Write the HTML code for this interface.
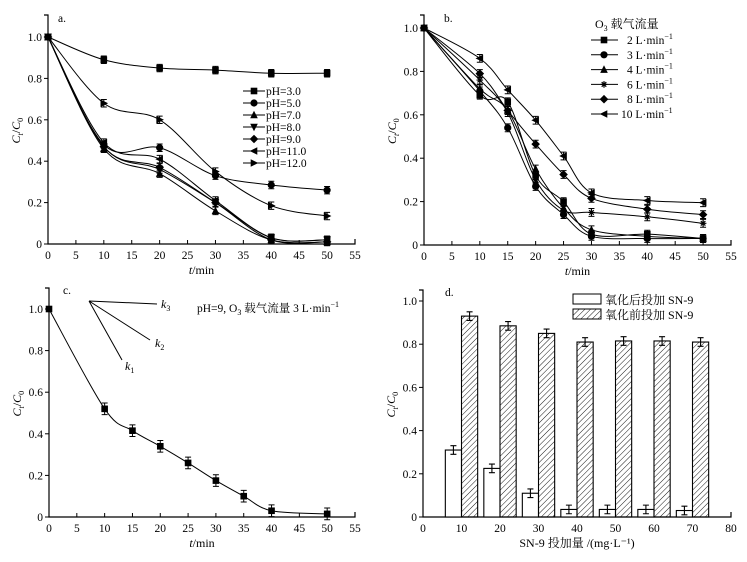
<!DOCTYPE html>
<html><head><meta charset="utf-8"><style>
body{margin:0;background:#fff;}
svg{display:block;font-family:"Liberation Serif","Noto Serif CJK SC",serif;}
</style></head><body>
<svg id="fig" width="747" height="562" viewBox="0 0 747 562">
<defs><pattern id="hatch" patternUnits="userSpaceOnUse" width="4" height="4" patternTransform="rotate(45)"><line x1="0" y1="0" x2="0" y2="4" stroke="#000" stroke-width="0.9"/></pattern></defs>
</svg>
<script>
// Panel a data
const aTimes=[0,10,20,30,40,50];
const aLabels=["pH=3.0","pH=5.0","pH=7.0","pH=8.0","pH=9.0","pH=11.0","pH=12.0"];
const aPH3=[1,0.89,0.85,0.84,0.825,0.825];
const aPH5=[1,0.48,0.465,0.33,0.285,0.26];
const aPH7=[1,0.46,0.34,0.16,0.02,0.01];
const aPH8=[1,0.47,0.36,0.2,0.03,0.02];
const aPH9=[1,0.47,0.37,0.2,0.02,0.01];
const aPH11=[1,0.49,0.41,0.21,0.03,0.02];
const aPH12=[1,0.68,0.6,0.35,0.185,0.135];
// Panel b data
const bTimes=[0,10,15,20,25,30,40,50];
const bLabels=["2 L·min","3 L·min","4 L·min","6 L·min","8 L·min","10 L·min"];
const bF2=[1,0.69,0.66,0.32,0.2,0.05,0.05,0.03];
const bF3=[1,0.71,0.54,0.27,0.14,0.04,0.03,0.03];
const bF4=[1,0.72,0.62,0.35,0.17,0.07,0.04,0.03];
const bF6=[1,0.76,0.61,0.3,0.16,0.15,0.13,0.10];
const bF8=[1,0.79,0.62,0.465,0.325,0.215,0.165,0.14];
const bF10=[1,0.86,0.715,0.575,0.41,0.24,0.205,0.195];
// Panel c data
const cTimes=[0,10,15,20,25,30,35,40,50];
const cVals=[1,0.52,0.415,0.34,0.26,0.175,0.10,0.03,0.015];
// Panel d data
const dDoses=[10,20,30,40,50,60,70];
const dAfter=[0.31,0.225,0.11,0.035,0.035,0.035,0.03];
const dBefore=[0.93,0.885,0.85,0.81,0.815,0.815,0.81];
const xTicks55=[0,5,10,15,20,25,30,35,40,45,50,55];
const xTicks80=[0,10,20,30,40,50,60,70,80];
const yTicks=[0,0.2,0.4,0.6,0.8,1.0];

const svg=document.getElementById('fig');
const NS='http://www.w3.org/2000/svg';
function mk(tag,attrs,parent,txt){const e=document.createElementNS(NS,tag);for(const k in attrs)e.setAttribute(k,attrs[k]);if(txt!==undefined)e.textContent=txt;(parent||svg).appendChild(e);return e;}

function axes(p,name,xt,xmax,xlabel){
  const g=mk('g',{},svg);
  
  
  const X=v=>p.x0+(v/xmax)*(p.x1-p.x0);
  const Y=v=>p.y0-v*(p.y0-p.y1);
  mk('path',{d:`M${p.x0-4} ${p.top}H${p.x0}V${p.y0}H${p.x1}V${p.y0-5}`,fill:'none',stroke:'#000','stroke-width':1.2},g);
  xt.forEach(t=>{mk('line',{x1:X(t),x2:X(t),y1:p.y0,y2:p.y0-4,stroke:'#000'},g);
    const tl=mk('text',{x:X(t),y:p.y0+15,'text-anchor':'middle','font-size':11.5},g,String(t));
    });
  yTicks.forEach(t=>{mk('line',{x1:p.x0,x2:p.x0-4,y1:Y(t),y2:Y(t),stroke:'#000'},g);
    const tl=mk('text',{x:p.x0-6,y:Y(t)+4,'text-anchor':'end','font-size':11.5},g,t===0?'0':t.toFixed(1));
    });
  const yl=mk('text',{transform:`translate(${p.x0-28},${(p.y0+p.top)/2+14}) rotate(-90)`,'font-size':12},g);
  
  mk('tspan',{'font-style':'italic'},yl,'C');mk('tspan',{'font-size':8,dy:3,'font-style':'italic'},yl,'t');
  mk('tspan',{dy:-3},yl,'/');mk('tspan',{'font-style':'italic'},yl,'C');mk('tspan',{'font-size':8,dy:3},yl,'0');
  const xl=mk('text',{x:(p.x0+p.x1)/2,y:p.y0+30,'text-anchor':'middle','font-size':12},g);
  
  if(xlabel){xl.textContent=xlabel;}else{mk('tspan',{'font-style':'italic'},xl,'t');mk('tspan',{},xl,'/min');}
  return {X,Y,g};
}
function smooth(pts){
  let d=`M${pts[0][0]} ${pts[0][1]}`;
  for(let i=0;i<pts.length-1;i++){
    const p0=pts[i-1]||pts[i],p1=pts[i],p2=pts[i+1],p3=pts[i+2]||p2;
    const c1=[p1[0]+(p2[0]-p0[0])/6,p1[1]+(p2[1]-p0[1])/6];
    const c2=[p2[0]-(p3[0]-p1[0])/6,p2[1]-(p3[1]-p1[1])/6];
    d+=`C${c1[0]} ${c1[1]} ${c2[0]} ${c2[1]} ${p2[0]} ${p2[1]}`;
  }
  return d;
}
function marker(type,x,y,g){
  const s=3.3;let e;
  if(type==='sq')e=mk('rect',{x:x-s,y:y-s,width:2*s,height:2*s},g);
  else if(type==='ci')e=mk('circle',{cx:x,cy:y,r:s+0.3},g);
  else if(type==='up')e=mk('polygon',{points:`${x},${y-s-1} ${x-s-0.5},${y+s} ${x+s+0.5},${y+s}`},g);
  else if(type==='dn')e=mk('polygon',{points:`${x},${y+s+1} ${x-s-0.5},${y-s} ${x+s+0.5},${y-s}`},g);
  else if(type==='di')e=mk('polygon',{points:`${x},${y-s-1} ${x+s+1},${y} ${x},${y+s+1} ${x-s-1},${y}`},g);
  else if(type==='lt')e=mk('polygon',{points:`${x-s-1},${y} ${x+s},${y-s-0.5} ${x+s},${y+s+0.5}`},g);
  else if(type==='rt')e=mk('polygon',{points:`${x+s+1},${y} ${x-s},${y-s-0.5} ${x-s},${y+s+0.5}`},g);
  else if(type==='st')e=mk('path',{d:`M${x-s} ${y}H${x+s}M${x} ${y-s}V${y+s}M${x-s+1} ${y-s+1}L${x+s-1} ${y+s-1}M${x-s+1} ${y+s-1}L${x+s-1} ${y-s+1}`,stroke:'#000','stroke-width':1.2},g);
  e.setAttribute('fill','#000');
  return e;
}
function series(ax,xs,ys,type,name,err){
  const g=mk('g',{},svg);
  
  
  const pts=xs.map((x,i)=>[ax.X(x),ax.Y(ys[i])]);
  mk('path',{d:smooth(pts),fill:'none',stroke:'#000','stroke-width':1},g);
  pts.forEach((p,i)=>{
    if(i>0){const e=ax.Y(0)-ax.Y(err);mk('path',{d:`M${p[0]} ${p[1]-e}V${p[1]+e}M${p[0]-3} ${p[1]-e}H${p[0]+3}M${p[0]-3} ${p[1]+e}H${p[0]+3}`,stroke:'#000','stroke-width':1},g);}
    const m=marker(type,p[0],p[1],g);
    
    
  });
}
// Panel a
const A=axes({x0:48,x1:355,y0:244,y1:37,top:15},'panel-a-axes',xTicks55,55);
mk('text',{x:58,y:22,'font-size':11.5},svg,'a.');
const aSeries=[aPH3,aPH5,aPH7,aPH8,aPH9,aPH11,aPH12];
const aTypes=['sq','ci','up','dn','di','lt','rt'];
aSeries.forEach((v,i)=>series(A,aTimes,v,aTypes[i],'series-'+aLabels[i].replace('=','-').replace('.','-'),0.018));
aLabels.forEach((l,i)=>{const y=91+i*12;const g=mk('g',{},svg);
  
  mk('line',{x1:243,x2:265,y1:y,y2:y,stroke:'#000'},g);marker(aTypes[i],254,y,g);
  mk('text',{x:266,y:y+4,'font-size':11.5},g,l);});
// Panel b
const B=axes({x0:424,x1:731,y0:245,y1:28,top:15},'panel-b-axes',xTicks55,55);
mk('text',{x:444,y:22,'font-size':11.5},svg,'b.');
const bSeries=[bF2,bF3,bF4,bF6,bF8,bF10];
const bTypes=['sq','ci','up','st','di','lt'];
bSeries.forEach((v,i)=>series(B,bTimes,v,bTypes[i],'series-flow-'+i,0.018));
const bt=mk('text',{x:595,y:28,'font-size':12},svg);

mk('tspan',{},bt,'O');mk('tspan',{'font-size':8,dy:3},bt,'3');mk('tspan',{dy:-3},bt,' 载气流量');
bLabels.forEach((l,i)=>{const y=40+i*14.8;const g=mk('g',{},svg);
  
  mk('line',{x1:591,x2:618,y1:y,y2:y,stroke:'#000'},g);marker(bTypes[i],604,y,g);
  const t=mk('text',{x:621+(l.startsWith('10')?0:6),y:y+4,'font-size':11.5},g,l);
  mk('tspan',{'font-size':8,dy:-5},t,'−1');});
// Panel c
const C=axes({x0:49,x1:355,y0:517,y1:309,top:288},'panel-c-axes',xTicks55,55);
mk('text',{x:63,y:294,'font-size':11.5},svg,'c.');
series(C,cTimes,cVals,'sq','series-ph9',0.028);
const kg=mk('g',{},svg);
mk('path',{d:'M89 301L157 304M89 301L150 340M89 301L122 360',stroke:'#000',fill:'none'},kg);
[['k',3,161,308],['k',2,155,347],['k',1,125,370]].forEach(a=>{const t=mk('text',{x:a[2],y:a[3],'font-size':12,'font-style':'italic'},kg,a[0]);mk('tspan',{'font-size':8,dy:3,'font-style':'normal'},t,String(a[1]));});
const ct=mk('text',{x:197,y:312,'font-size':11.5},svg);

mk('tspan',{},ct,'pH=9, O');mk('tspan',{'font-size':8,dy:3},ct,'3');mk('tspan',{dy:-3},ct,' 载气流量 3 L·min');mk('tspan',{'font-size':8,dy:-5},ct,'−1');
// Panel d
const D=axes({x0:423,x1:731,y0:517,y1:301,top:290},'panel-d-axes',xTicks80,80,'SN-9 投加量 /(mg·L⁻¹)');
mk('text',{x:445,y:296,'font-size':11.5},svg,'d.');
const bw=4.2;
dDoses.forEach((c,i)=>{
  [[dAfter[i],c-bw,'#fff','bar-after-'+c],[dBefore[i],c,'url(#hatch)','bar-before-'+c]].forEach(b=>{
    const x=D.X(b[1]),w=D.X(b[1]+bw)-x,y=D.Y(b[0]);
    const r=mk('rect',{x:x,y:y,width:w,height:D.Y(0)-y,fill:b[2],stroke:'#000','stroke-width':1.1});
    
    const cx=x+w/2,e=D.Y(0)-D.Y(0.02);
    mk('path',{d:`M${cx} ${y-e}V${y+e}M${cx-3} ${y-e}H${cx+3}M${cx-3} ${y+e}H${cx+3}`,stroke:'#000','stroke-width':1.1});
  });
});
[['#fff','氧化后投加 SN-9',294],['url(#hatch)','氧化前投加 SN-9',309]].forEach(l=>{const g=mk('g',{},svg);
  
  mk('rect',{x:573,y:l[2],width:28,height:10,fill:l[0],stroke:'#000'},g);
  mk('text',{x:605,y:l[2]+10,'font-size':12},g,l[1]);});
</script>
</body></html>
